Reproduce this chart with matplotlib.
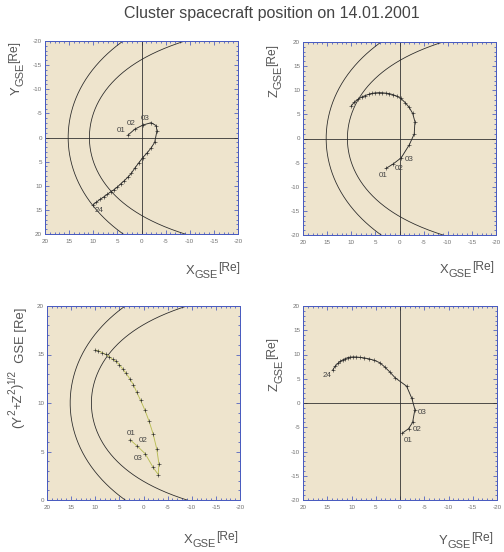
import numpy as np
import matplotlib
matplotlib.use("Agg")
import matplotlib.pyplot as plt
from matplotlib.ticker import MultipleLocator

# ---------------- Data: hourly Cluster positions (GSE, Re) ----------------
hours = ["01", "02", "03", "04", "05", "06", "07", "08", "09", "10", "11", "12",
         "13", "14", "15", "16", "17", "18", "19", "20", "21", "22", "23", "24"]
x_gse = [2.8, 1.35, -0.35, -2.0, -3.05, -3.2, -2.73, -2.0, -1.17, -0.28, 0.6, 1.4,
         2.1, 2.85, 3.6, 4.3, 5.0, 5.7, 6.4, 7.1, 7.8, 8.6, 9.35, 10.0]
y_gse = [-0.5, -1.76, -2.6, -3.07, -2.45, -1.35, 1.0, 2.15, 3.18, 4.15, 5.3, 6.36,
         7.42, 8.24, 8.98, 9.6, 10.26, 10.82, 11.25, 11.8, 12.3, 12.83, 13.4, 13.9]
z_gse = [-6.2, -5.3, -4.0, -1.35, 0.93, 3.48, 5.2, 6.45, 7.45, 8.3, 8.8, 9.1,
         9.3, 9.4, 9.48, 9.5, 9.45, 9.35, 9.15, 8.9, 8.6, 8.15, 7.55, 6.75]

# model boundaries (standoff distance, flaring)
mp_r0, mp_alpha = 10.8, 0.58   # magnetopause
bs_r0, bs_alpha = 15.2, 0.56   # bow shock

axis_ticks = [20, 15, 10, 5, 0, -5, -10, -15, -20]

# ---------------- Style ----------------
BG = "#eee4cd"
BLUE = "#4a5cc0"
LINE = "#2a2a2a"
TXT = "#555555"
TRAJ3 = "#b9bd55"
plt.rcParams["font.family"] = ["Liberation Sans", "DejaVu Sans"]
plt.rcParams["axes.unicode_minus"] = False

X = np.array(x_gse)
Y = np.array(y_gse)
Z = np.array(z_gse)
RHO = np.sqrt(Y**2 + Z**2)

theta = np.radians(np.linspace(-160, 160, 600))


def boundary(r0, alpha):
    r = r0 * (2.0 / (1.0 + np.cos(theta))) ** alpha
    return r * np.cos(theta), r * np.sin(theta)


def chain_label(ax, x, y, parts, rotated=False):
    # draws "X", "GSE", "[Re]" one after another with baseline shifts
    prev = None
    prev_shift = 0
    for text, size, shift in parts:
        kw = dict(fontsize=size, color=TXT)
        if prev is None:
            if rotated:
                prev = ax.text(x, y, text, rotation=90, ha="right", va="bottom",
                               transform=ax.transAxes, **kw)
            else:
                prev = ax.text(x, y, text, ha="left", va="bottom",
                               transform=ax.transAxes, **kw)
        else:
            d = shift - prev_shift
            if rotated:
                prev = ax.annotate(text, xy=(1, 1), xycoords=prev, xytext=(-d, 0),
                                   textcoords="offset points", rotation=90,
                                   ha="right", va="bottom", **kw)
            else:
                prev = ax.annotate(text, xy=(1, 0), xycoords=prev, xytext=(0, d),
                                   textcoords="offset points", ha="left",
                                   va="bottom", **kw)
        prev_shift = shift


def style_axes(ax, ylim, yticks):
    ax.set_facecolor(BG)
    ax.set_xlim(20, -20)
    ax.set_ylim(*ylim)
    ax.set_xticks(axis_ticks)
    ax.set_yticks(yticks)
    ax.xaxis.set_minor_locator(MultipleLocator(1))
    ax.yaxis.set_minor_locator(MultipleLocator(1))
    for s in ax.spines.values():
        s.set_color(BLUE)
        s.set_linewidth(1.0)
    ax.tick_params(which="both", direction="in", top=True, right=True,
                   color=BLUE, labelsize=6.3, labelcolor="#707070", width=0.8)
    ax.tick_params(which="major", length=4)
    ax.tick_params(which="minor", length=2)
    ax.tick_params(axis="x", pad=5)
    ax.tick_params(axis="y", pad=3)


def label_points(ax, xs, ys, items):
    for idx, dx, dy in items:
        ax.annotate(hours[idx], (xs[idx], ys[idx]), xytext=(dx, dy),
                    textcoords="offset points", ha="center", va="center",
                    fontsize=8, color="#444444")


fig = plt.figure(figsize=(7, 552 / 72), dpi=72)
fig.patch.set_facecolor("white")
fig.text(0.54, 0.975, "Cluster spacecraft position on 14.01.2001",
         ha="center", va="center", fontsize=16, color="#444444")

W = 193 / 504
H = 193 / 552
ax1 = fig.add_axes([45 / 504, 1 - 234 / 552, W, H])
ax2 = fig.add_axes([303 / 504, 1 - 235 / 552, W, H])
ax3 = fig.add_axes([47 / 504, 1 - 500 / 552, W, 194 / 552])
ax4 = fig.add_axes([303 / 504, 1 - 500 / 552, 194 / 504, 194 / 552])

full_ticks = [-20, -15, -10, -5, 0, 5, 10, 15, 20]
mp_x, mp_y = boundary(mp_r0, mp_alpha)
bs_x, bs_y = boundary(bs_r0, bs_alpha)

# ---------------- Panel 1: X-Y ----------------
style_axes(ax1, (20, -20), full_ticks)
ax1.axhline(0, color=LINE, lw=0.8)
ax1.axvline(0, color=LINE, lw=0.8)
ax1.plot(mp_x, mp_y, color=LINE, lw=0.8)
ax1.plot(bs_x, bs_y, color=LINE, lw=0.8)
ax1.plot(X, Y, color=LINE, lw=0.9, marker="+", ms=4, mew=0.6)
label_points(ax1, X, Y, [(0, -7, 5), (1, -4, 6), (2, 2, 6), (23, 6, -6)])

# ---------------- Panel 2: X-Z ----------------
style_axes(ax2, (-20, 20), full_ticks)
ax2.axhline(0, color=LINE, lw=0.8)
ax2.axvline(0, color=LINE, lw=0.8)
ax2.plot(mp_x, mp_y, color=LINE, lw=0.8)
ax2.plot(bs_x, bs_y, color=LINE, lw=0.8)
ax2.plot(X, Z, color=LINE, lw=0.9, marker="+", ms=4, mew=0.6)
label_points(ax2, X, Z, [(0, -3, -7), (1, 6, -4), (2, 8, -2)])

# ---------------- Panel 3: X-rho ----------------
style_axes(ax3, (0, 20), [0, 5, 10, 15, 20])
ax3.plot(mp_x, (mp_y + 20) / 2, color=LINE, lw=0.8)
ax3.plot(bs_x, (bs_y + 20) / 2, color=LINE, lw=0.8)
ax3.plot(X, RHO, color=TRAJ3, lw=0.9)
ax3.plot(X, RHO, ls="none", color=LINE, marker="+", ms=4, mew=0.6)
label_points(ax3, X, RHO, [(0, 1, 6), (1, 6, 5), (2, -7, -5)])

# ---------------- Panel 4: Y-Z ----------------
style_axes(ax4, (-20, 20), full_ticks)
ax4.axhline(0, color=LINE, lw=0.8)
ax4.axvline(0, color=LINE, lw=0.8)
ax4.plot(Y, Z, color=LINE, lw=0.9, marker="+", ms=4, mew=0.6)
label_points(ax4, Y, Z, [(23, -6, -5), (0, 6, -7), (1, 9, -1), (2, 10, 10)])

# ---------------- Axis labels ----------------
xl = [("X", 13, 0), ("GSE", 11, -3), ("[Re]", 12, 3)]
chain_label(ax1, 0.73, -0.225, xl)
chain_label(ax2, 0.71, -0.215, xl)
chain_label(ax3, 0.71, -0.235, xl)
chain_label(ax4, 0.70, -0.24, [("Y", 13, 0), ("GSE", 11, -3), ("[Re]", 12, 3)])

chain_label(ax1, -0.115, 0.72, [("Y", 13, 0), ("GSE", 11, -3), ("[Re]", 12, 3)], rotated=True)
chain_label(ax2, -0.115, 0.715, [("Z", 13, 0), ("GSE", 11, -3), ("[Re]", 12, 3)], rotated=True)
chain_label(ax4, -0.113, 0.564, [("Z", 13, 0), ("GSE", 11, -3), ("[Re]", 12, 3)], rotated=True)
chain_label(ax3, -0.12, 0.37,
            [("(Y", 13, 0), ("2", 10, 6), ("+Z", 13, 0), ("2", 10, 6), (")", 13, 0),
             ("1/2", 10, 7), ("  GSE [Re]", 13, -3)], rotated=True)

fig.savefig("out.png", dpi=72, facecolor="white")
